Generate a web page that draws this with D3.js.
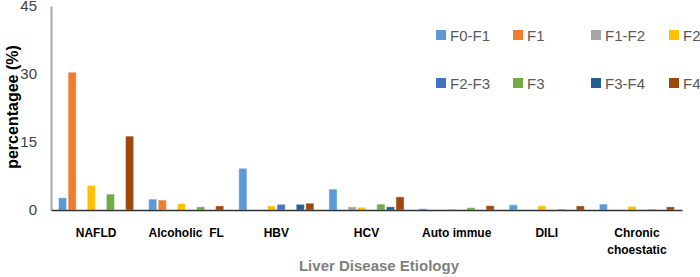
<!DOCTYPE html>
<html>
<head>
<meta charset="utf-8">
<script src="https://cdn.jsdelivr.net/npm/d3@7"></script>
<style>
  body { margin: 0; background: #fff; }
  text { font-family: "Liberation Sans", Arial, sans-serif; }
</style>
</head>
<body>
<div id="chart"></div>
<script>
// categories (second label line for the last one)
const etiologies = ["NAFLD", "Alcoholic  FL", "HBV", "HCV", "Auto immue", "DILI", "Chronic\nchoestatic"];
const stages = ["F0-F1", "F1", "F1-F2", "F2", "F2-F3", "F3", "F3-F4", "F4"];
const stageColors = ["#5B9BD5", "#ED7D31", "#A5A5A5", "#FFC000", "#4472C4", "#70AD47", "#255E91", "#9E480E"];
const yTicks = [0, 15, 30, 45];

// values per stage, one per etiology
const vF0F1 = [2.7, 2.4, 9.2, 4.6, 0.3, 1.15, 1.3];
const vF1   = [30.4, 2.2, 0, 0, 0, 0, 0];
const vF1F2 = [0, 0, 0, 0.7, 0, 0, 0];
const vF2   = [5.4, 1.4, 0.9, 0.6, 0.2, 0.95, 0.8];
const vF2F3 = [0, 0, 1.25, 0, 0, 0, 0];
const vF3   = [3.5, 0.7, 0, 1.3, 0.5, 0.2, 0.2];
const vF3F4 = [0, 0, 1.25, 0.7, 0, 0, 0];
const vF4   = [16.3, 0.9, 1.5, 2.9, 0.95, 0.9, 0.7];
const seriesValues = [vF0F1, vF1, vF1F2, vF2, vF2F3, vF3, vF3F4, vF4];

var width = 700, height = 277;
var margin = { top: 6, right: 18, bottom: 67, left: 51 };
var w = width - margin.left - margin.right,
    h = height - margin.top - margin.bottom;

var svg = d3.select("#chart").append("svg")
    .attr("width", width)
    .attr("height", height);

var g = svg.append("g")
    .attr("transform", "translate(" + margin.left + "," + margin.top + ")");

var x0 = d3.scaleBand().domain(etiologies).range([0, w]).padding(0);
var x1 = d3.scaleBand().domain(stages)
    .range([7.5, x0.bandwidth() - 7.5])
    .paddingInner(0.15);
var y = d3.scaleLinear().domain([0, 45]).range([h, 0]);
var color = d3.scaleOrdinal().domain(stages).range(stageColors);

// flatten for the bars
var rows = [];
etiologies.forEach(function (e, i) {
    stages.forEach(function (s, j) {
        if (seriesValues[j][i] > 0) rows.push({ cat: e, stage: s, v: seriesValues[j][i] });
    });
});

g.selectAll("rect.bar")
    .data(rows)
    .enter().append("rect")
    .attr("class", "bar")
    .attr("x", d => x0(d.cat) + x1(d.stage))
    .attr("y", d => y(d.v))
    .attr("width", x1.bandwidth())
    .attr("height", d => h - y(d.v))
    .attr("fill", d => color(d.stage))
    .attr("stroke", "rgba(255,255,255,0.45)")
    .attr("stroke-width", 1);

// y axis
var yAxis = g.append("g")
    .call(d3.axisLeft(y).tickValues(yTicks).tickSize(0).tickPadding(14));
yAxis.select(".domain").attr("stroke", "#A6A6A6").attr("stroke-width", 2);
yAxis.selectAll("text")
    .style("font-size", "15px")
    .attr("fill", "#404040");

// x axis
var xAxis = g.append("g")
    .attr("transform", "translate(0," + h + ")")
    .call(d3.axisBottom(x0).tickSize(0).tickFormat(""));
xAxis.select(".domain").attr("stroke", "#333").attr("stroke-width", 1.5);

// category labels
etiologies.forEach(function (e) {
    var lines = e.split("\n");
    var t = g.append("text")
        .attr("x", x0(e) + x0.bandwidth() / 2)
        .attr("y", h + 27)
        .attr("text-anchor", "middle")
        .style("font-size", "12px")
        .style("font-weight", "bold")
        .style("white-space", "pre")
        .attr("fill", "#000");
    lines.forEach(function (l, k) {
        t.append("tspan")
            .attr("x", x0(e) + x0.bandwidth() / 2)
            .attr("dy", k === 0 ? 0 : 17)
            .text(l);
    });
});

// axis titles
svg.append("text")
    .attr("transform", "translate(18," + (margin.top + h / 2 - 1) + ") rotate(-90)")
    .attr("text-anchor", "middle")
    .style("font-size", "16px")
    .style("font-weight", "bold")
    .attr("fill", "#000")
    .text("percentagee (%)");

svg.append("text")
    .attr("x", 379)
    .attr("y", 271)
    .attr("text-anchor", "middle")
    .style("font-size", "15px")
    .style("font-weight", "bold")
    .attr("fill", "#7F7F7F")
    .text("Liver Disease Etiology");

// legend, 4 columns x 2 rows
var legX = [436, 513, 591, 669], legY = [35, 83];
var leg = svg.selectAll("g.leg")
    .data(stages)
    .enter().append("g")
    .attr("class", "leg")
    .attr("transform", (d, i) => "translate(" + legX[i % 4] + "," + legY[Math.floor(i / 4)] + ")");
leg.append("rect")
    .attr("x", 0).attr("y", -5)
    .attr("width", 10).attr("height", 10)
    .attr("fill", d => color(d));
leg.append("text")
    .attr("x", 14).attr("y", 5.5)
    .style("font-size", "15px")
    .attr("fill", "#595959")
    .text(d => d);
</script>
</body>
</html>
